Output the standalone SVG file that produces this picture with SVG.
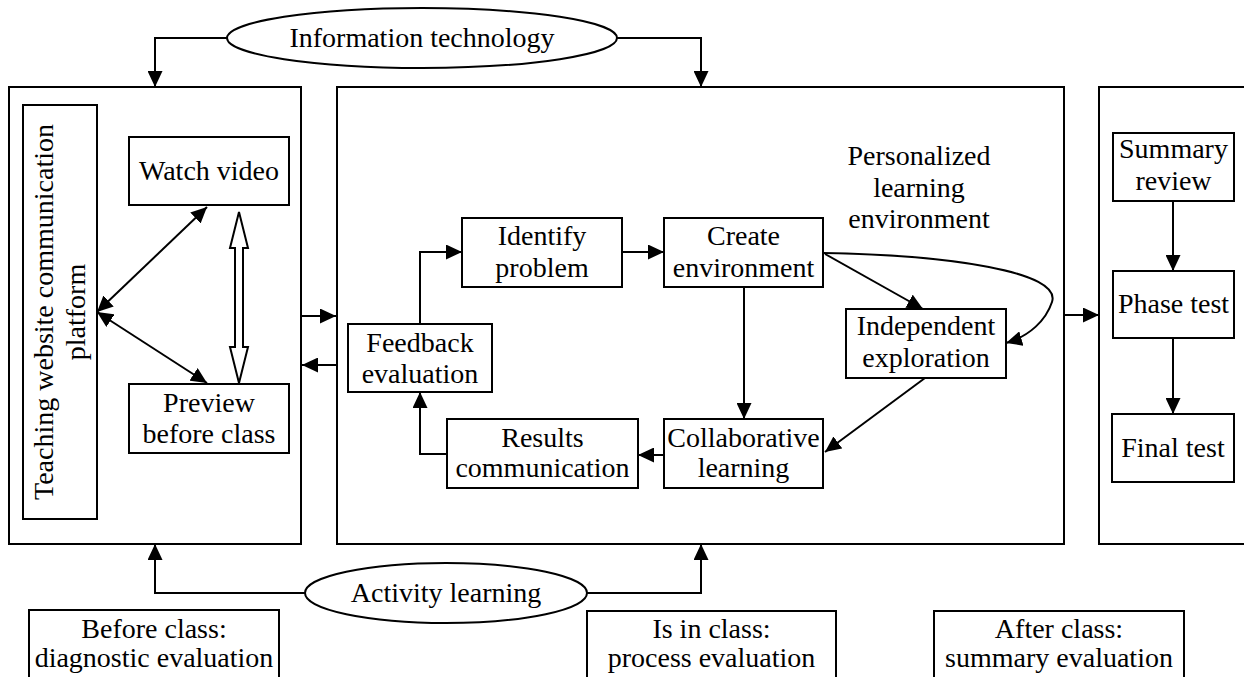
<svg xmlns="http://www.w3.org/2000/svg" width="1244" height="677" viewBox="0 0 1244 677">
<style>
.b{fill:#fff;stroke:#000;stroke-width:2}
.f{fill:none;stroke:#000;stroke-width:2}
.c{fill:none;stroke:#000;stroke-width:2;marker-end:url(#ah)}
.d{fill:none;stroke:#000;stroke-width:2;marker-end:url(#ah);marker-start:url(#ah)}
text{font-family:"Liberation Serif","Times New Roman",serif;font-size:28px;fill:#000;text-anchor:middle}
</style>
<defs>
<marker id="ah" markerUnits="userSpaceOnUse" markerWidth="16" markerHeight="15" refX="16" refY="7.5" orient="auto-start-reverse"><path d="M0,0 L16,7.5 L0,15 z" fill="#000"/></marker>
</defs>
<rect width="1244" height="677" fill="#fff"/>
<g id="containers">
<rect id="before-box" class="b" x="9" y="87" width="292" height="457"/>
<rect id="in-box" class="b" x="337" y="87" width="727" height="457"/>
<rect id="after-box" class="b" x="1099" y="87" width="160" height="457"/>
</g>
<g id="it"><ellipse class="b" cx="422" cy="38" rx="195" ry="30"/><text x="422" y="47">Information technology</text></g>
<g id="al"><ellipse class="b" cx="446" cy="593" rx="141" ry="30"/><text x="446" y="602">Activity learning</text></g>
<g id="platform"><rect class="b" x="23" y="105" width="74" height="414"/>
<text transform="translate(53,312) rotate(-90)">Teaching website communication</text>
<text transform="translate(85,312) rotate(-90)">platform</text></g>
<g id="watch"><rect class="b" x="129" y="137" width="160" height="68"/><text x="209" y="180">Watch video</text></g>
<g id="preview"><rect class="b" x="129" y="384" width="160" height="69"/><text x="209" y="412">Preview</text><text x="209" y="443">before class</text></g>
<g id="ple"><text x="919" y="165">Personalized</text><text x="919" y="197">learning</text><text x="919" y="228">environment</text></g>
<g id="identify"><rect class="b" x="462" y="218" width="160" height="69"/><text x="542" y="245">Identify</text><text x="542" y="277">problem</text></g>
<g id="create"><rect class="b" x="664" y="218" width="159" height="69"/><text x="743.5" y="245">Create</text><text x="743.5" y="277">environment</text></g>
<g id="independent"><rect class="b" x="846" y="309" width="160" height="69"/><text x="926" y="335">Independent</text><text x="926" y="367">exploration</text></g>
<g id="collab"><rect class="b" x="664" y="419" width="159" height="69"/><text x="743.5" y="447">Collaborative</text><text x="743.5" y="477">learning</text></g>
<g id="results"><rect class="b" x="447" y="419" width="191" height="69"/><text x="542.5" y="447">Results</text><text x="542.5" y="477">communication</text></g>
<g id="feedback"><rect class="b" x="348" y="324" width="144" height="68"/><text x="420" y="352">Feedback</text><text x="420" y="383">evaluation</text></g>
<g id="summary"><rect class="b" x="1113" y="133" width="121" height="68"/><text x="1173.5" y="158">Summary</text><text x="1173.5" y="190">review</text></g>
<g id="phase"><rect class="b" x="1113" y="271" width="121" height="67"/><text x="1173.5" y="313">Phase test</text></g>
<g id="final"><rect class="b" x="1112" y="414" width="122" height="68"/><text x="1173" y="457">Final test</text></g>
<g id="before-eval"><rect class="b" x="29" y="610" width="250" height="90"/><text x="154" y="638">Before class:</text><text x="154" y="667">diagnostic evaluation</text></g>
<g id="in-eval"><rect class="b" x="587" y="611" width="249" height="90"/><text x="711.5" y="638">Is in class:</text><text x="711.5" y="667">process evaluation</text></g>
<g id="after-eval"><rect class="b" x="934" y="611" width="250" height="90"/><text x="1059" y="638">After class:</text><text x="1059" y="667">summary evaluation</text></g>
<g id="connectors">
<path class="c" d="M227,38 H155 V87"/>
<path class="c" d="M617,38 H701 V87"/>
<path class="c" d="M305,593 H155 V544"/>
<path class="c" d="M587,593 H701 V544"/>
<path class="d" d="M207,207 L97,312"/>
<path class="d" d="M97,312 L207,383"/>
<polygon class="b" points="239,212 248,248 243,248 243,347 248,347 239,383 230,347 235,347 235,248 230,248"/>
<path class="c" d="M302,316 H336"/>
<path class="c" d="M336,365 H302"/>
<path class="c" d="M420,324 V252 H462"/>
<path class="c" d="M622,252 H664"/>
<path class="c" d="M744,287 V419"/>
<path class="c" d="M825,254 L923,309"/>
<path class="c" d="M823,253 C950,255 1062,272 1052,302 C1046,320 1030,336 1006,343"/>
<path class="c" d="M925,378 L825,452"/>
<path class="c" d="M664,455 H638"/>
<path class="c" d="M447,454 H420 V392"/>
<path class="c" d="M1064,315 H1099"/>
<path class="c" d="M1173,201 V271"/>
<path class="c" d="M1173,338 V414"/>
</g>
</svg>
